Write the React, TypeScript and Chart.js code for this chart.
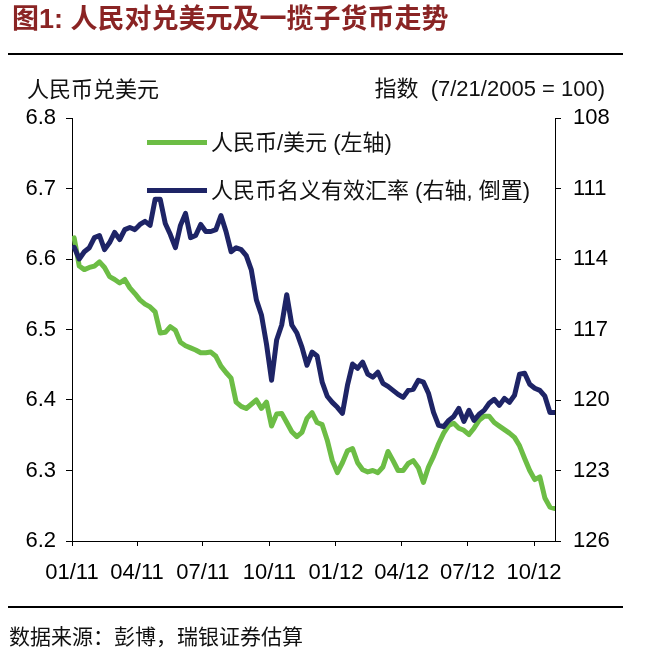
import React, { useEffect, useRef } from "react";
import { Chart, registerables } from "chart.js";

Chart.register(...registerables);

// ---- Data -------------------------------------------------------------
const dates = [
  "2011-01-04","2011-01-11","2011-01-18","2011-01-25","2011-02-01","2011-02-08","2011-02-15","2011-02-22",
  "2011-03-01","2011-03-08","2011-03-15","2011-03-22","2011-03-29","2011-04-05","2011-04-12","2011-04-19",
  "2011-04-26","2011-05-03","2011-05-10","2011-05-17","2011-05-24","2011-05-31","2011-06-07","2011-06-14",
  "2011-06-21","2011-06-28","2011-07-05","2011-07-12","2011-07-19","2011-07-26","2011-08-02","2011-08-09",
  "2011-08-16","2011-08-23","2011-08-30","2011-09-06","2011-09-13","2011-09-20","2011-09-27","2011-10-04",
  "2011-10-11","2011-10-18","2011-10-25","2011-11-01","2011-11-08","2011-11-15","2011-11-22","2011-11-29",
  "2011-12-06","2011-12-13","2011-12-20","2011-12-27","2012-01-03","2012-01-10","2012-01-17","2012-01-24",
  "2012-01-31","2012-02-07","2012-02-14","2012-02-21","2012-02-28","2012-03-06","2012-03-13","2012-03-20",
  "2012-03-27","2012-04-03","2012-04-10","2012-04-17","2012-04-24","2012-05-01","2012-05-08","2012-05-15",
  "2012-05-22","2012-05-29","2012-06-05","2012-06-12","2012-06-19","2012-06-26","2012-07-03","2012-07-10",
  "2012-07-17","2012-07-24","2012-07-31","2012-08-07","2012-08-14","2012-08-21","2012-08-28","2012-09-04",
  "2012-09-11","2012-09-18","2012-09-25","2012-10-02","2012-10-09","2012-10-16","2012-10-23","2012-10-30",
];

// 人民币/美元 (left axis)
const cnyPerUsd = [
  6.630, 6.590, 6.585, 6.588, 6.590, 6.596, 6.588, 6.575,
  6.571, 6.566, 6.571, 6.559, 6.551, 6.542, 6.536, 6.532,
  6.525, 6.495, 6.496, 6.504, 6.499, 6.482, 6.477, 6.474,
  6.471, 6.467, 6.467, 6.468, 6.462, 6.448, 6.439, 6.431,
  6.397, 6.391, 6.388, 6.394, 6.400, 6.388, 6.397, 6.363,
  6.380, 6.381, 6.368, 6.355, 6.348, 6.354, 6.374, 6.382,
  6.368, 6.365, 6.343, 6.314, 6.297, 6.311, 6.328, 6.331,
  6.311, 6.301, 6.298, 6.300, 6.297, 6.305, 6.327, 6.314,
  6.300, 6.300, 6.310, 6.314, 6.304, 6.283, 6.305, 6.320,
  6.338, 6.353, 6.364, 6.367, 6.360, 6.357, 6.351, 6.360,
  6.371, 6.377, 6.377, 6.368, 6.363, 6.358, 6.353, 6.347,
  6.335, 6.317, 6.300, 6.287, 6.291, 6.261, 6.248, 6.246,
];

// 人民币名义有效汇率 (right axis, inverted)
const neerIndex = [
  113.50, 114.00, 113.69, 113.52, 113.09, 113.00, 113.60, 113.30,
  112.87, 113.17, 112.75, 112.66, 112.75, 112.53, 112.40, 112.57,
  111.46, 111.46, 112.49, 112.96, 113.52, 112.57, 112.06, 113.09,
  113.00, 112.53, 112.83, 112.83, 112.75, 112.15, 112.83, 113.69,
  113.52, 113.60, 113.86, 114.46, 115.74, 116.38, 117.62, 119.16,
  117.45, 116.81, 115.52, 116.81, 117.15, 117.75, 118.52, 117.96,
  118.13, 119.24, 119.84, 120.10, 120.31, 120.57, 119.37, 118.47,
  118.65, 118.39, 118.90, 119.03, 118.82, 119.29, 119.42, 119.59,
  119.76, 119.89, 119.59, 119.54, 119.16, 119.24, 119.71, 120.53,
  121.08, 121.13, 120.87, 120.70, 120.36, 120.91, 120.44, 120.87,
  120.61, 120.44, 120.14, 119.97, 120.23, 119.93, 120.10, 119.80,
  118.90, 118.86, 119.33, 119.50, 119.59, 119.84, 120.53, 120.53,
];

const xStartDate = "2011-01-01";
const xEndDate = "2012-10-30";
const xTickDates = ["2011-01-01","2011-04-01","2011-07-01","2011-10-01","2012-01-01","2012-04-01","2012-07-01","2012-10-01"];
const xTickLabels = ["01/11","04/11","07/11","10/11","01/12","04/12","07/12","10/12"];
const leftTickValues = [6.2, 6.3, 6.4, 6.5, 6.6, 6.7, 6.8];
const rightTickValues = [108, 111, 114, 117, 120, 123, 126];

const seriesNames = ["人民币/美元 (左轴)", "人民币名义有效汇率 (右轴, 倒置)"];
const titleText = "图1: 人民对兑美元及一揽子货币走势";
const leftAxisTitle = "人民币兑美元";
const rightAxisTitle = "指数  (7/21/2005 = 100)";
const sourceText = "数据来源：彭博，瑞银证券估算";

// ---- Helpers ----------------------------------------------------------
const dayOf = (s: string) =>
  (Date.parse(s + "T00:00:00Z") - Date.parse(xStartDate + "T00:00:00Z")) / 86400000;

const GREEN = "#6cbd45";
const NAVY = "#1e2466";
const LATIN = '"Liberation Sans", Arial, sans-serif';
const MIXED = '"Liberation Sans", "Noto Sans CJK SC", sans-serif';

export default function App() {
  const canvasRef = useRef<HTMLCanvasElement | null>(null);

  useEffect(() => {
    const canvas = canvasRef.current;
    if (!canvas) return;
    const tickFont = { family: LATIN, size: 22 };
    const chart = new Chart(canvas, {
      type: "line",
      data: {
        datasets: [
          {
            label: seriesNames[0],
            data: dates.map((d, i) => ({ x: dayOf(d), y: cnyPerUsd[i] })),
            yAxisID: "yL",
            borderColor: GREEN,
            backgroundColor: GREEN,
            borderWidth: 5,
            pointRadius: 0,
            tension: 0,
            borderJoinStyle: "round",
            borderCapStyle: "round",
            order: 2,
          },
          {
            label: seriesNames[1],
            data: dates.map((d, i) => ({ x: dayOf(d), y: neerIndex[i] })),
            yAxisID: "yR",
            borderColor: NAVY,
            backgroundColor: NAVY,
            borderWidth: 5,
            pointRadius: 0,
            tension: 0,
            borderJoinStyle: "round",
            borderCapStyle: "round",
            order: 1,
          },
        ],
      },
      options: {
        animation: false,
        responsive: false,
        events: [],
        layout: { padding: { top: 118, bottom: 72, left: 0, right: 0 }, autoPadding: false },
        plugins: { legend: { display: false }, tooltip: { enabled: false } },
        scales: {
          x: {
            type: "linear",
            position: "bottom",
            min: 0,
            max: dayOf(xEndDate),
            afterBuildTicks: (axis: any) => {
              axis.ticks = xTickDates.map((d) => ({ value: dayOf(d) }));
            },
            afterFit: (axis: any) => {
              axis.height = 40;
            },
            ticks: {
              autoSkip: false,
              maxRotation: 0,
              minRotation: 0,
              padding: 14,
              color: "#000",
              font: tickFont,
              callback: (_v: any, i: number) => xTickLabels[i],
            },
            grid: { drawOnChartArea: false, drawTicks: true, tickLength: 5, color: "#000", lineWidth: 1 },
            border: { display: true, color: "#000", width: 1 },
          },
          yL: {
            type: "linear",
            position: "left",
            min: 6.2,
            max: 6.8,
            afterBuildTicks: (axis: any) => {
              axis.ticks = leftTickValues.map((v) => ({ value: v }));
            },
            afterFit: (axis: any) => {
              axis.width = 72;
            },
            ticks: {
              padding: 10,
              color: "#000",
              font: tickFont,
              callback: (v: any) => Number(v).toFixed(1),
            },
            grid: { drawOnChartArea: false, drawTicks: true, tickLength: 6, color: "#000", lineWidth: 1 },
            border: { display: true, color: "#000", width: 1 },
          },
          yR: {
            type: "linear",
            position: "right",
            min: 108,
            max: 126,
            reverse: true,
            afterBuildTicks: (axis: any) => {
              axis.ticks = rightTickValues.map((v) => ({ value: v }));
            },
            afterFit: (axis: any) => {
              axis.width = 91;
            },
            ticks: {
              padding: 12,
              color: "#000",
              font: tickFont,
              callback: (v: any) => String(v),
            },
            grid: { drawOnChartArea: false, drawTicks: true, tickLength: 6, color: "#000", lineWidth: 1 },
            border: { display: true, color: "#000", width: 1 },
          },
        },
      } as any,
    });
    return () => chart.destroy();
  }, []);

  const text = (
    content: string,
    left: number | null,
    right: number | null,
    centerY: number,
    size: number,
    extra: React.CSSProperties = {}
  ) => (
    <div
      style={{
        position: "absolute",
        left: left ?? undefined,
        right: right ?? undefined,
        top: centerY - size * 0.75,
        height: size * 1.5,
        lineHeight: `${size * 1.5}px`,
        fontSize: size,
        fontFamily: MIXED,
        color: "#111",
        whiteSpace: "pre",
        ...extra,
      }}
    >
      {content}
    </div>
  );

  return (
    <div
      style={{
        position: "absolute",
        left: 0,
        top: 0,
        width: 646,
        height: 653,
        background: "#fff",
        overflow: "hidden",
      }}
    >
      <canvas
        ref={canvasRef}
        width={646}
        height={653}
        style={{ position: "absolute", left: 0, top: 0, width: 646, height: 653 }}
      />
      {text(titleText, 12, null, 19, 27, { color: "#8a2424", fontWeight: 700 })}
      <div style={{ position: "absolute", left: 8, top: 53, width: 615, height: 2, background: "#000" }} />
      {text(leftAxisTitle, 27, null, 89, 22)}
      {text(rightAxisTitle, null, 41, 88, 22)}
      {/* legend */}
      <div style={{ position: "absolute", left: 147, top: 139.5, width: 60, height: 5, background: GREEN }} />
      {text(seriesNames[0], 211, null, 142, 22)}
      <div style={{ position: "absolute", left: 147, top: 187.5, width: 60, height: 5, background: NAVY }} />
      {text(seriesNames[1], 211, null, 190, 22)}
      <div style={{ position: "absolute", left: 8, top: 606, width: 615, height: 2, background: "#000" }} />
      {text(sourceText, 9, null, 637, 21)}
    </div>
  );
}
